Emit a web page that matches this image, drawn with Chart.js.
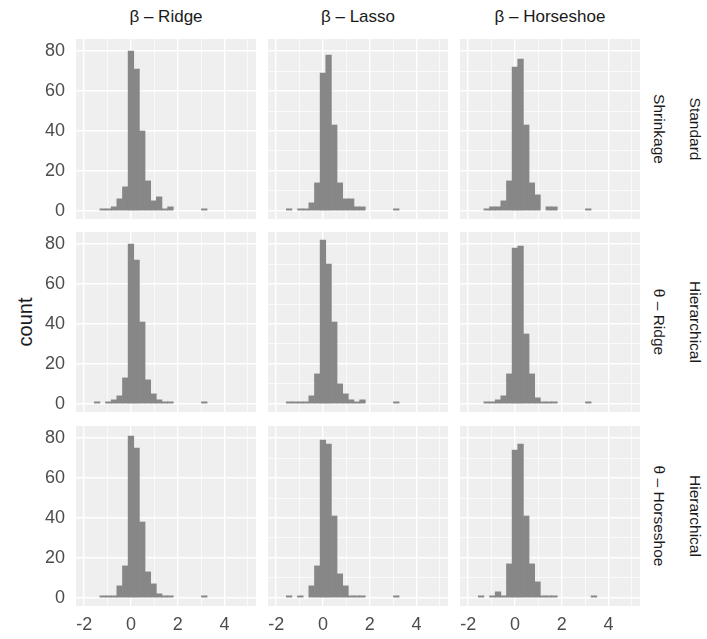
<!DOCTYPE html>
<html>
<head>
<meta charset="utf-8">
<script src="https://cdn.jsdelivr.net/npm/chart.js@4"></script>
<style>
  body { margin: 0; background: #fff; font-family: "Liberation Sans", Arial, sans-serif; }
  #wrap { position: relative; width: 707px; height: 639px; overflow: hidden; }
  canvas { position: absolute; }
  .strip { position: absolute; color: #1a1a1a; white-space: nowrap; line-height: 20px; }
  .top { text-align: center; width: 180px; font-size: 17px; }
  .side { writing-mode: vertical-rl; transform: translate(-50%, -50%); font-size: 15.5px; }
  #ylab { position: absolute; left: 25px; top: 322px; font-size: 20px; color: #1a1a1a;
          transform: translate(-50%, -50%) rotate(-90deg); }
</style>
</head>
<body>
<div id="wrap"><div id="ylab">count</div></div>
<script>
// bin centres (binwidth ~0.241) and tick labels
var binCenters = [-1.448, -1.207, -0.966, -0.724, -0.483, -0.241, 0, 0.241, 0.483, 0.724, 0.966,
                  1.207, 1.448, 1.690, 1.931, 2.172, 2.414, 2.655, 2.897, 3.138, 3.379];
var xTickLabels = [-2, 0, 2, 4];
var yTickLabels = [0, 20, 40, 60, 80];

var columnLabels = ['β – Ridge', 'β – Lasso', 'β – Horseshoe'];
var rowLabels = [['Standard', 'Shrinkage'], ['Hierarchical', 'θ – Ridge'], ['Hierarchical', 'θ – Horseshoe']];

// counts per bin, one array per panel
var standardRidge     = [0, 1, 1, 2, 6, 12, 80, 71, 40, 15, 5, 7, 1, 2, 0, 0, 0, 0, 0, 1, 0];
var standardLasso     = [1, 0, 1, 1, 4, 14, 69, 78, 43, 14, 6, 6, 2, 2, 0, 0, 0, 0, 0, 1, 0];
var standardHorseshoe = [0, 1, 2, 2, 5, 15, 72, 76, 43, 14, 8, 0, 2, 2, 0, 0, 0, 0, 0, 1, 0];
var thetaRidgeRidge     = [1, 0, 1, 2, 4, 13, 80, 72, 41, 12, 5, 2, 1, 1, 0, 0, 0, 0, 0, 1, 0];
var thetaRidgeLasso     = [1, 1, 1, 1, 4, 15, 82, 70, 41, 10, 5, 2, 1, 2, 0, 0, 0, 0, 0, 1, 0];
var thetaRidgeHorseshoe = [0, 1, 1, 2, 4, 15, 78, 79, 35, 15, 3, 1, 1, 1, 0, 0, 0, 0, 0, 1, 0];
var thetaHsRidge     = [0, 1, 1, 1, 6, 16, 81, 75, 38, 13, 7, 2, 1, 1, 0, 0, 0, 0, 0, 1, 0];
var thetaHsLasso     = [1, 0, 1, 0, 6, 16, 79, 77, 41, 12, 6, 1, 1, 1, 0, 0, 0, 0, 0, 1, 0];
var thetaHsHorseshoe = [1, 0, 1, 3, 1, 17, 74, 77, 41, 17, 8, 1, 1, 1, 0, 0, 0, 0, 0, 0, 1];

var panels = [
    [standardRidge, standardLasso, standardHorseshoe],
    [thetaRidgeRidge, thetaRidgeLasso, thetaRidgeHorseshoe],
    [thetaHsRidge, thetaHsLasso, thetaHsHorseshoe]
];

// layout
var colLeft = [76, 268, 460];
var rowTop = [39, 232, 426];
var PANEL = 180, AXIS_W = 76, AXIS_H = 36;
var FONT = '"Liberation Sans", Arial, sans-serif';

var wrap = document.getElementById('wrap');

// grey panel background like ggplot
var panelBg = {
    id: 'panelBg',
    beforeDraw: function (chart) {
        var a = chart.chartArea, c = chart.ctx;
        c.save();
        c.fillStyle = '#EFEFEF';
        c.fillRect(a.left, a.top, a.right - a.left, a.bottom - a.top);
        c.restore();
    }
};

function gridWidth(ctx, major) {
    return Math.abs(ctx.tick.value) % major === 0 ? 1.4 : 0.7;
}

for (var r = 0; r < 3; r++) {
    for (var c = 0; c < 3; c++) {
        (function (r, c) {
            var w = PANEL + (c === 0 ? AXIS_W : 0);
            var h = PANEL + (r === 2 ? AXIS_H : 0);
            var canvas = document.createElement('canvas');
            canvas.width = w; canvas.height = h;
            canvas.style.width = w + 'px'; canvas.style.height = h + 'px';
            canvas.style.left = (colLeft[c] - (c === 0 ? AXIS_W : 0)) + 'px';
            canvas.style.top = rowTop[r] + 'px';
            wrap.appendChild(canvas);

            var counts = panels[r][c];
            new Chart(canvas.getContext('2d'), {
                type: 'bar',
                data: {
                    datasets: [{
                        // empty bins -> null so nothing is drawn there
                        data: binCenters.map(function (x, i) { return { x: x, y: counts[i] || null }; }),
                        backgroundColor: '#878787',
                        borderWidth: 0,
                        barPercentage: 1,
                        categoryPercentage: 1
                    }]
                },
                options: {
                    responsive: false,
                    animation: false,
                    events: [],
                    layout: { padding: 0 },
                    plugins: { legend: { display: false }, tooltip: { enabled: false } },
                    scales: {
                        x: {
                            type: 'linear',
                            min: -2.35, max: 5.35,
                            offset: false,
                            border: { display: false },
                            grid: { offset: false, color: '#ffffff', drawTicks: false,
                                    lineWidth: function (ctx) { return gridWidth(ctx, 2); } },
                            ticks: {
                                display: r === 2, stepSize: 1, includeBounds: false, autoSkip: false,
                                maxRotation: 0, padding: 8, color: '#4d4d4d',
                                font: { size: 18, family: FONT },
                                callback: function (v) { return xTickLabels.indexOf(v) >= 0 ? String(v) : ''; }
                            },
                            afterFit: function (s) { s.height = r === 2 ? AXIS_H : 0; s.paddingLeft = 0; s.paddingRight = 0; }
                        },
                        y: {
                            min: -4.1, max: 86.1,
                            border: { display: false },
                            grid: { color: '#ffffff', drawTicks: false,
                                    lineWidth: function (ctx) { return gridWidth(ctx, 20); } },
                            ticks: {
                                display: c === 0, stepSize: 10, includeBounds: false, padding: 11,
                                color: '#4d4d4d', font: { size: 18, family: FONT },
                                callback: function (v) { return yTickLabels.indexOf(v) >= 0 ? String(v) : ''; }
                            },
                            afterFit: function (s) { s.width = c === 0 ? AXIS_W : 0; s.paddingTop = 0; s.paddingBottom = 0; }
                        }
                    }
                },
                plugins: [panelBg]
            });
        })(r, c);
    }
}

// facet strips
columnLabels.forEach(function (t, c) {
    var d = document.createElement('div');
    d.className = 'strip top';
    d.textContent = t;
    d.style.left = colLeft[c] + 'px';
    d.style.top = '7px';
    wrap.appendChild(d);
});
rowLabels.forEach(function (lines, r) {
    var xs = [695, 659];
    lines.forEach(function (t, i) {
        var d = document.createElement('div');
        d.className = 'strip side';
        d.textContent = t;
        d.style.left = xs[i] + 'px';
        d.style.top = (rowTop[r] + PANEL / 2) + 'px';
        wrap.appendChild(d);
    });
});
</script>
</body>
</html>
